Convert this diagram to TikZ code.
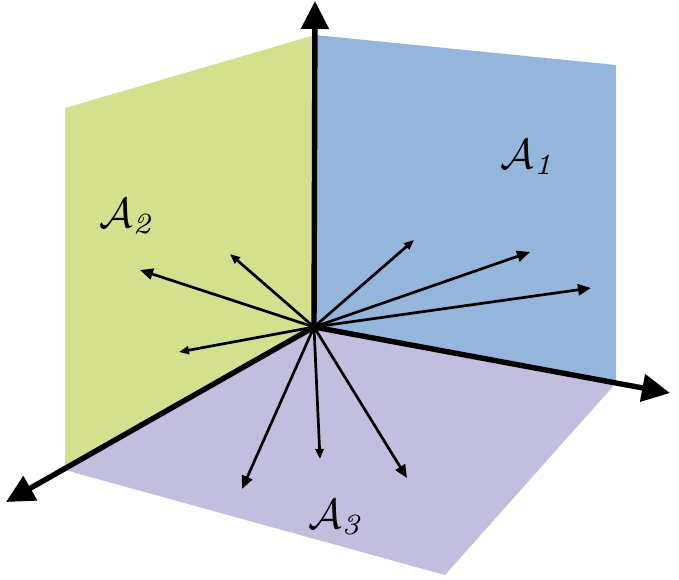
\documentclass[tikz,border=0pt]{standalone}
\usetikzlibrary{arrows.meta}
\definecolor{planeblue}{HTML}{95B6DC}
\definecolor{planegreen}{HTML}{D5E08F}
\definecolor{planepurple}{HTML}{C2BEDF}
\begin{document}
\begin{tikzpicture}[x=1pt,y=-1pt,
  axis/.style={line width=5.4pt,-{Triangle[length=28pt,width=27pt]}},
  vec/.style={line width=2.7pt,-{Triangle[length=13pt,width=11pt]}},
  vecs/.style={line width=2.7pt,-{Triangle[length=10pt,width=8pt]}},
  lbl/.style={font=\normalsize,scale=4.2}]
\useasboundingbox (0,0) rectangle (679,579);
\coordinate (O) at (314,327);
\fill[planeblue] (315,35) -- (616,65) -- (616,383) -- (O) -- cycle;
\fill[planegreen] (315,35) -- (65,108) -- (65,470) -- (O) -- cycle;
\fill[planepurple] (O) -- (616,383) -- (445,575) -- (65,470) -- cycle;
% vectors
\coordinate (g1) at (140,270);
\coordinate (g2) at (230,254);
\coordinate (g3) at (179,352);
\coordinate (b1) at (414,240);
\coordinate (b2) at (530,252);
\coordinate (b3) at (591,288);
\coordinate (p1) at (242,489);
\coordinate (p2) at (320,459);
\coordinate (p3) at (407,478);
\draw[vec] (O) -- (g1);
\draw[vecs] (O) -- (g2);
\draw[vecs] (O) -- (g3);
\draw[vecs] (O) -- (b1);
\draw[vec] (O) -- (b2);
\draw[vec] (O) -- (b3);
\draw[vec] (O) -- (p1);
\draw[vecs] (O) -- (p2);
\draw[vec] (O) -- (p3);
% axes
\coordinate (up) at (315,1);
\coordinate (rt) at (670,393);
\coordinate (lf) at (6,502);
\draw[axis] (O) -- (up);
\draw[axis] (O) -- (rt);
\draw[axis] (O) -- (lf);
% labels
\node[lbl] (L1) at (529,157) {$\mathcal{A}_{\mathit{1}}$};
\node[lbl] (L2) at (128,216) {$\mathcal{A}_{\mathit{2}}$};
\node[lbl] (L3) at (337,517) {$\mathcal{A}_{\mathit{3}}$};
\end{tikzpicture}
\end{document}
